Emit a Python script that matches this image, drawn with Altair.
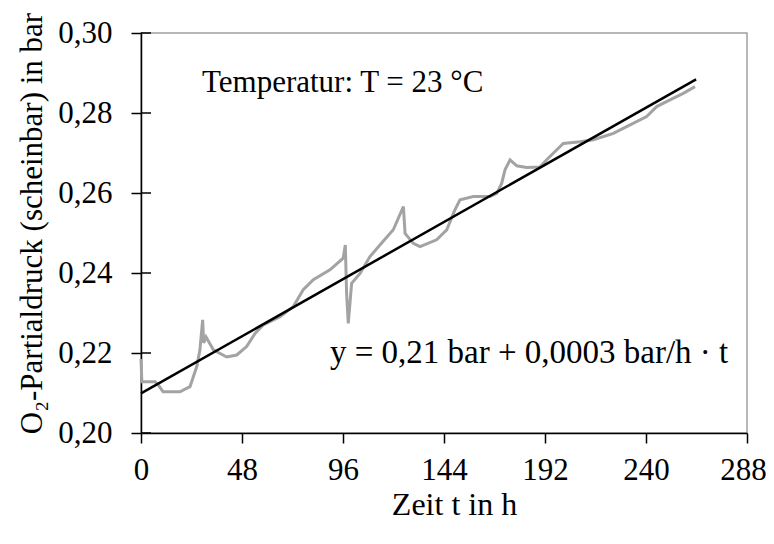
import altair as alt
import pandas as pd

t_meas = [0.0, 0.4, 6.7, 8.5, 10.5, 18.5, 23.3, 26.5, 28.0, 29.3, 29.8, 30.9, 34.4, 40.7,
          45.5, 50.2, 54.2, 58.1, 66.1, 72.4, 77.1, 81.9, 89.8, 96.1, 97.1, 97.7, 98.5,
          100.1, 104.1, 108.8, 115.2, 119.9, 124.7, 125.5, 129.4, 132.6, 140.5, 145.3,
          149.2, 151.6, 157.9, 165.9, 169.1, 171.4, 173.0, 175.4, 178.6, 183.3, 189.6,
          192.8, 197.6, 200.7, 208.7, 215.0, 224.5, 230.8, 240.3, 245.1, 251.4, 257.7, 263.3]
p_meas = [0.2185, 0.2128, 0.2128, 0.2118, 0.2103, 0.2103, 0.2116, 0.2166, 0.2208, 0.2283,
          0.2225, 0.2240, 0.2208, 0.2190, 0.2195, 0.2216, 0.2249, 0.2270, 0.2291, 0.2316,
          0.2358, 0.2383, 0.2408, 0.2437, 0.2470, 0.2350, 0.2274, 0.2374, 0.2399, 0.2441,
          0.2480, 0.2508, 0.2566, 0.2499, 0.2474, 0.2466, 0.2483, 0.2508, 0.2558, 0.2583,
          0.2591, 0.2591, 0.2599, 0.2624, 0.2658, 0.2683, 0.2668, 0.2664, 0.2665, 0.2683,
          0.2708, 0.2724, 0.2728, 0.2733, 0.2749, 0.2766, 0.2791, 0.2816, 0.2833, 0.2849,
          0.2866]

# linear fit
t_fit = [0.0, 263.8]
p_fit = [0.2099, 0.2884]

x_ticks = [0, 48, 96, 144, 192, 240, 288]
y_ticks = [0.20, 0.22, 0.24, 0.26, 0.28, 0.30]

ann_text = ["Temperatur: T = 23 °C", "y = 0,21 bar + 0,0003 bar/h · t"]
ann_t = [29.0, 89.8]
ann_p = [0.2853, 0.2175]
ann_size = [31, 33]

FONT = "Liberation Serif"
FS = 31

df_meas = pd.DataFrame({"t": t_meas, "p": p_meas})
df_fit = pd.DataFrame({"t": t_fit, "p": p_fit})
df_ticks = pd.DataFrame({"p": y_ticks})
df_ann = pd.DataFrame({"t": ann_t, "p": ann_p, "label": ann_text, "size": ann_size})

xscale = alt.Scale(domain=[0, 288], nice=False, zero=False)
yscale = alt.Scale(domain=[0.20, 0.30], nice=False, zero=False)

x_axis = alt.Axis(
    values=x_ticks, title="Zeit t in h", format="d", grid=False,
    domainColor="black", domainWidth=1.5, tickColor="black", tickWidth=1.5, tickSize=10,
    labelFont=FONT, labelFontSize=FS, labelColor="black", labelBaseline="alphabetic",
    labelPadding=36, labelFlush=False, labelOverlap=False,
    labelOffset={"condition": {"test": "datum.value >= 288", "value": -4}, "value": 0},
    titleFont=FONT, titleFontSize=32, titleFontWeight="normal", titleColor="black",
    titleBaseline="alphabetic", titleY=81, titleX=313, titleAlign="center",
)
y_axis = alt.Axis(
    values=y_ticks, title="O₂-Partialdruck (scheinbar) in bar", grid=False,
    labelExpr="replace(format(datum.value, '.2f'), '.', ',')",
    domainColor="black", domainWidth=1.5, tickColor="black", tickWidth=1.5, tickSize=10,
    labelFont=FONT, labelFontSize=FS, labelColor="black", labelBaseline="middle",
    labelPadding=19, labelFlush=False, labelOverlap=False,
    titleFont=FONT, titleFontSize=FS, titleFontWeight="normal", titleColor="black",
    titleAngle=-90, titleBaseline="alphabetic", titleAlign="center", titleX=-100, titleY=190,
)

X = alt.X("t:Q", scale=xscale, axis=x_axis)
Y = alt.Y("p:Q", scale=yscale, axis=y_axis)

meas = alt.Chart(df_meas).mark_line(color="#a3a3a3", strokeWidth=3).encode(x=X, y=Y)
fit = alt.Chart(df_fit).mark_line(color="black", strokeWidth=2.5).encode(x=X, y=Y)
inner_ticks = alt.Chart(df_ticks).mark_rule(color="black", strokeWidth=1.5).encode(
    y=Y, x=alt.value(0), x2=alt.value(10),
)
ann = alt.Chart(df_ann).mark_text(
    align="left", baseline="alphabetic", font=FONT, color="black"
).encode(
    x=X, y=Y, text="label:N",
    size=alt.Size("size:Q", scale=None, legend=None),
)

chart = alt.layer(meas, fit, inner_ticks, ann).properties(
    width=606, height=400,
    autosize=alt.AutoSizeParams(type="none"),
    padding={"left": 133, "top": 25, "right": 19, "bottom": 103},
    background="white",
).configure_view(stroke="#a0a0a0", strokeWidth=1.5)

chart.save("out.html", embed_options={"renderer": "svg", "actions": False})
